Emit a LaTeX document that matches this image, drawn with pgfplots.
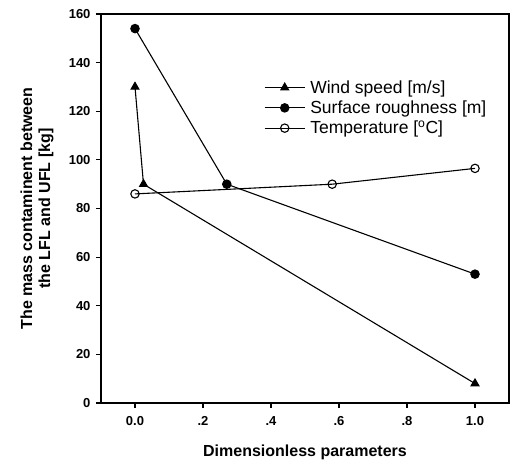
\documentclass[border=0pt]{standalone}
\usepackage{fontspec}
\setmainfont{Liberation Sans}
\usepackage{pgfplots}
\pgfplotsset{compat=1.18}
\begin{document}
\begin{tikzpicture}
\begin{axis}[
  scale only axis,
  width=408pt, height=389pt,
  xmin=-0.1, xmax=1.1, ymin=0, ymax=160,
  xtick={0,0.2,0.4,0.6,0.8,1.0},
  xticklabels={0.0,.2,.4,.6,.8,1.0},
  ytick={0,20,40,60,80,100,120,140,160},
  tick align=outside,
  tick pos=left,
  major tick length=5pt,
  axis line style={line width=1.3pt},
  major tick style={black, line width=1.1pt},
  ticklabel style={font=\fontsize{13}{15}\selectfont\bfseries},
  x tick label style={yshift=-5pt},
  y tick label style={xshift=-2pt},
  /pgf/number format/assume math mode=true,
  xlabel={Dimensionless parameters},
  ylabel={The mass contaminent between\\ the LFL and UFL [kg]},
  ylabel style={align=center, font=\fontsize{16}{18}\selectfont\bfseries,
    at={(axis description cs:-0.157,0.5)}, anchor=center},
  xlabel style={font=\fontsize{16}{18}\selectfont\bfseries,
    at={(axis description cs:0.5,-0.126)}, anchor=center},
  legend style={draw=none, fill=none, at={(0.397,0.837)}, anchor=north west,
    font=\fontsize{17.5}{20}\selectfont, row sep=2pt, inner sep=1pt,
    nodes={inner xsep=5pt}},
  legend cell align=left,
  legend image code/.code={
    \draw[mark repeat=2, mark phase=2, #1] plot coordinates {(0pt,0pt) (20pt,0pt) (40pt,0pt)};
  },
]
\addplot[black, line width=1.1pt, mark=triangle*, mark size=4.5pt, mark options={solid}]
  coordinates {(0,130) (0.025,90) (1.0,8)};
\addlegendentry{Wind speed [m/s]}
\addplot[black, line width=1.1pt, mark=*, mark size=4.2pt]
  coordinates {(0,154) (0.27,90) (1.0,53)};
\addlegendentry{Surface roughness [m]}
\addplot[black, line width=1.1pt, mark=o, mark size=4.2pt, mark options={fill=white}]
  coordinates {(0,86) (0.58,90) (1.0,96.5)};
\addlegendentry{Temperature [\textsuperscript{o}C]}
\coordinate (ll) at (rel axis cs:0,0);
\coordinate (ur) at (rel axis cs:1,1);
\end{axis}
\pgfresetboundingbox
\path ([shift={(-101pt,-60pt)}]ll) rectangle ([shift={(7pt,14pt)}]ur);
\end{tikzpicture}
\end{document}
